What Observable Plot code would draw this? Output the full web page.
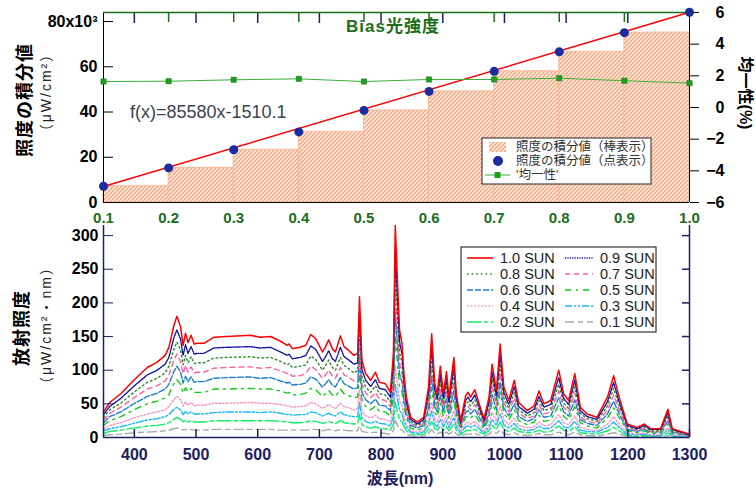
<!DOCTYPE html>
<html><head><meta charset="utf-8">
<script src="https://cdn.jsdelivr.net/npm/d3@7"></script>
<script src="https://cdn.jsdelivr.net/npm/@observablehq/plot@0.6"></script>
<style>
body{margin:0;background:#fff;}
#wrap{position:relative;width:756px;height:489px;overflow:hidden;background:#fff;}
#wrap svg{position:absolute;left:0;}
</style></head><body><div id="wrap"></div>
<script>
const FONT = '"Liberation Sans", Arial, "Noto Sans CJK JP", sans-serif';

// ---- top panel data ----
const intensities = [0.1,0.2,0.3,0.4,0.5,0.6,0.7,0.8,0.9,1.0];
const integralK = [7.2,15.3,23.3,31.2,40.7,49.1,58.0,66.6,75.1,84.1];   // x10^3 µW/cm²
const uniformity = [1.64,1.66,1.75,1.81,1.64,1.77,1.77,1.85,1.69,1.54]; // %
const fitX = [0.1, 1.0];
const fitY = [7.05, 84.07];
const leftTicks = [0,20,40,60,80];
const rightTicks = [-6,-4,-2,0,2,4,6];

// ---- bottom panel data ----
const waveTicks = [400,500,600,700,800,900,1000,1100,1200,1300];
const specTicks = [0,50,100,150,200,250,300];
const wavelengths = [350,360,378,399,421,437,450,456,464,469,475,479,483,487,492,497,502,513,529,550,588,604,621,637,648,651,656,669,678,686,694,705,710,715,721,726,734,740,748,756,762,765,769,775,783,791,797,807,815,820,823,827,830,834,837,841,848,859,869,877,882,887,891,896,901,906,910,918,922,929,937,941,945,952,959,967,975,980,987,993,999,1007,1016,1023,1037,1048,1056,1064,1075,1088,1096,1104,1114,1123,1134,1150,1167,1177,1186,1199,1215,1227,1237,1253,1265,1272,1286,1300];
const sun10 = [38,52,65,85,104,112,122,134,166,180,164,137,155,141,152,139,140,140,149,150,152,149,150,143,137,139,132,134,137,153,147,127,135,145,132,127,151,135,129,122,125,209,114,95,85,97,82,80,67,124,315,223,159,139,95,60,30,23,30,75,154,80,65,106,65,98,60,119,65,25,62,67,60,71,50,28,60,109,70,139,75,55,85,52,40,47,69,50,55,100,65,55,95,45,35,30,60,92,60,20,15,20,13,13,42,13,9,5];
const sun09 = [34,46,58,76,93,100,109,119,148,160,146,122,138,125,135,124,125,125,133,134,135,133,134,127,122,124,117,119,122,136,131,113,120,129,117,113,134,120,115,109,111,186,101,85,76,86,73,71,60,110,280,198,142,124,85,53,27,20,27,67,137,71,58,94,58,87,53,106,58,22,55,60,53,63,45,25,53,97,62,124,67,49,76,46,36,42,61,45,49,89,58,49,85,40,31,27,53,82,53,18,13,18,12,12,37,12,8,4];
const sun08 = [30,41,51,67,82,88,96,106,131,142,130,108,122,111,120,110,111,111,118,119,120,118,119,113,108,110,104,106,108,121,116,100,107,115,104,100,119,107,102,96,99,165,90,75,67,77,65,63,53,98,249,176,126,110,75,47,24,18,24,59,122,63,51,84,51,77,47,94,51,20,49,53,47,56,40,22,47,86,55,110,59,43,67,41,32,37,55,40,43,79,51,43,75,36,28,24,47,73,47,16,12,16,10,10,33,10,7,4];
const sun07 = [26,36,45,59,72,77,84,92,115,124,113,95,107,97,105,96,97,97,103,104,105,103,104,99,95,96,91,92,95,106,101,88,93,100,91,88,104,93,89,84,86,144,79,66,59,67,57,55,46,86,217,154,110,96,66,41,21,16,21,52,106,55,45,73,45,68,41,82,45,17,43,46,41,49,35,19,41,75,48,96,52,38,59,36,28,32,48,35,38,69,45,38,66,31,24,21,41,63,41,14,10,14,9,9,29,9,6,3];
const sun06 = [22,31,38,50,61,66,72,79,98,106,97,81,91,83,90,82,83,83,88,89,90,88,89,84,81,82,78,79,81,90,87,75,80,86,78,75,89,80,76,72,74,123,67,56,50,57,48,47,40,73,186,132,94,82,56,35,18,14,18,44,91,47,38,63,38,58,35,70,38,15,37,40,35,42,30,17,35,64,41,82,44,32,50,31,24,28,41,30,32,59,38,32,56,27,21,18,35,54,35,12,9,12,8,8,25,8,5,3];
const sun05 = [18,25,31,41,50,54,59,64,80,86,79,66,74,68,73,67,67,67,72,72,73,72,72,69,66,67,63,64,66,73,71,61,65,70,63,61,72,65,62,59,60,100,55,46,41,47,39,38,32,60,151,107,76,67,46,29,14,11,14,36,74,38,31,51,31,47,29,57,31,12,30,32,29,34,24,13,29,52,34,67,36,26,41,25,19,23,33,24,26,48,31,26,46,22,17,14,29,44,29,10,7,10,6,6,20,6,4,2];
const sun04 = [13,18,22,29,35,38,41,46,56,61,56,47,53,48,52,47,48,48,51,51,52,51,51,49,47,47,45,46,47,52,50,43,46,49,45,43,51,46,44,41,43,71,39,32,29,33,28,27,23,42,107,76,54,47,32,20,10,8,10,26,52,27,22,36,22,33,20,40,22,9,21,23,20,24,17,10,20,37,24,47,26,19,29,18,14,16,23,17,19,34,22,19,32,15,12,10,20,31,20,7,5,7,4,4,14,4,3,2];
const sun03 = [10,13,16,21,26,28,31,34,42,45,41,34,39,35,38,35,35,35,37,38,38,37,38,36,34,35,33,34,34,38,37,32,34,36,33,32,38,34,32,31,31,52,29,24,21,24,21,20,17,31,79,56,40,35,24,15,8,6,8,19,39,20,16,27,16,25,15,30,16,6,16,17,15,18,13,7,15,27,18,35,19,14,21,13,10,12,17,13,14,25,16,14,24,11,9,8,15,23,15,5,4,5,3,3,11,3,2,1];
const sun02 = [6,9,11,14,17,18,20,22,27,30,27,23,26,23,25,23,23,23,25,25,25,25,25,24,23,23,22,22,23,25,24,21,22,24,22,21,25,22,21,20,21,34,19,16,14,16,14,13,11,20,52,37,26,23,16,10,5,4,5,12,25,13,11,17,11,16,10,20,11,4,10,11,10,12,8,5,10,18,12,23,12,9,14,9,7,8,11,8,9,17,11,9,16,7,6,5,10,15,10,3,2,3,2,2,7,2,1,1];
const sun01 = [3,4,5,7,8,9,10,11,13,14,13,11,12,11,12,11,11,11,12,12,12,12,12,11,11,11,11,11,11,12,12,10,11,12,11,10,12,11,10,10,10,17,9,8,7,8,7,6,5,10,25,18,13,11,8,5,2,2,2,6,12,6,5,8,5,8,5,10,5,2,5,5,5,6,4,2,5,9,6,11,6,4,7,4,3,4,6,4,4,8,5,4,8,4,3,2,5,7,5,2,1,2,1,1,3,1,1,0];
const seriesNames = ["1.0 SUN","0.9 SUN","0.8 SUN","0.7 SUN","0.6 SUN","0.5 SUN","0.4 SUN","0.3 SUN","0.2 SUN","0.1 SUN"];
const seriesValues = [sun10,sun09,sun08,sun07,sun06,sun05,sun04,sun03,sun02,sun01];
const seriesColors = ["#ff0000","#1010a0","#2a8a2a","#ff5fa0","#1b7fd0","#11cc11","#ff8fc4","#15b8ff","#11ee66","#aaaaaa"];
const seriesDash = [null,"1.2,1.2","1.6,3","5,4","6,2","6,5,2,5","1.6,2","7,2,2,2,2,2","14,3,4,3","9,4,5,4"];

const GREEN = "#1b6e1b";
const NAVY = "#1c2060";
const wrap = document.getElementById("wrap");

function addHatch(svg, id) {
  const p = d3.select(svg).insert("defs", ":first-child").append("pattern")
    .attr("id", id).attr("patternUnits", "userSpaceOnUse").attr("width", 4).attr("height", 4);
  p.append("rect").attr("width", 4).attr("height", 4).attr("fill", "#fff0e6");
  p.append("path").attr("d", "M-1,1 L1,-1 M0,4 L4,0 M3,5 L5,3")
    .attr("stroke", "#f5a27a").attr("stroke-width", 1.3);
}

// ---- top plot ----
const bars = intensities.slice(0, -1).map((x, i) => ({x1: x, x2: intensities[i + 1], v: integralK[i]}));
const pts = intensities.map((x, i) => ({x, v: integralK[i]}));
const uni = intensities.map((x, i) => ({x, u: uniformity[i]}));
const fit = fitX.map((x, i) => ({x, v: fitY[i]}));
const toLeft = r => (r + 6) * 84 / 12;
const toTopX = w => 0.1 + (w - 350) * 0.9 / 950;
const fmtNum = d => (d < 0 ? "\u2212" + Math.abs(d) : String(d));

const topPlot = Plot.plot({
  width: 756, height: 230,
  marginLeft: 103, marginRight: 67, marginTop: 12, marginBottom: 28,
  style: {background: "transparent", fontFamily: FONT, overflow: "visible"},
  x: {domain: [0.1, 1.0], axis: null, label: null},
  y: {domain: [0, 84], axis: null, label: null},
  marks: [
    Plot.rect(bars, {x1: "x1", x2: "x2", y1: 0, y2: "v", fill: "url(#hatchTop)", stroke: "#f8b896", strokeWidth: 1}),
    Plot.ruleY([0], {stroke: "#000"}),
    Plot.ruleX([0.1], {stroke: "#000"}),
    Plot.ruleX([1.0], {stroke: "#000"}),
    Plot.ruleY([84], {stroke: GREEN, strokeWidth: 1.5}),
    Plot.axisX({anchor: "bottom", ticks: intensities, tickSize: 0, tickPadding: 10, tickFormat: d => d.toFixed(1), fill: GREEN, fontWeight: "bold", fontSize: 15, label: null}),
    Plot.axisX({anchor: "top", ticks: intensities.slice(1, -1), tickSize: -9, stroke: GREEN, strokeWidth: 1.5, tickFormat: () => "", label: null}),
    Plot.axisX({anchor: "top", ticks: waveTicks.slice(0, -1).map(toTopX), tickSize: -10, stroke: NAVY, strokeWidth: 1.5, tickFormat: () => "", label: null}),
    Plot.axisY({anchor: "left", ticks: leftTicks, tickSize: -10, tickPadding: 16, stroke: "#000", fill: "#000", fontWeight: "bold", fontSize: 16, tickFormat: d => d === 80 ? "80x10\u00b3" : String(d), label: null}),
    Plot.axisY({anchor: "right", ticks: rightTicks.map(toLeft), tickSize: 9, tickPadding: 26, textAnchor: "end", stroke: "#000", fill: "#000", fontWeight: "bold", fontSize: 16, tickFormat: d => fmtNum(Math.round(d * 12 / 84 - 6)), label: null}),
    Plot.line(fit, {x: "x", y: "v", stroke: "#ff0000", strokeWidth: 1.5}),
    Plot.line(uni, {x: "x", y: d => toLeft(d.u), stroke: "#3cae3c", strokeWidth: 1}),
    Plot.dot(uni, {x: "x", y: d => toLeft(d.u), symbol: "square", r: 3, fill: "#1f9f1f", stroke: "#117711", strokeWidth: 0.5}),
    Plot.dot(pts, {x: "x", y: "v", r: 4.5, fill: "#1a2d9e"})
  ]
});
addHatch(topPlot, "hatchTop");
topPlot.style.top = "0px";
wrap.appendChild(topPlot);

// ---- bottom plot ----
const lineMarks = [];
for (let s = seriesNames.length - 1; s >= 0; s--) {
  const data = wavelengths.map((w, i) => ({w, v: seriesValues[s][i]}));
  lineMarks.push(Plot.line(data, {x: "w", y: "v", stroke: seriesColors[s], strokeWidth: s === 0 ? 1.5 : 1.4, strokeDasharray: seriesDash[s] || undefined}));
}
const botPlot = Plot.plot({
  width: 756, height: 269,
  marginLeft: 103, marginRight: 67, marginTop: 5, marginBottom: 52,
  style: {background: "transparent", fontFamily: FONT, overflow: "visible"},
  x: {domain: [350, 1300], axis: null, label: null},
  y: {domain: [0, 315], axis: null, label: null},
  marks: [
    ...lineMarks,
    Plot.ruleX([350], {stroke: NAVY, strokeWidth: 1.5}),
    Plot.ruleX([1300], {stroke: NAVY, strokeWidth: 1.5}),
    Plot.ruleY([0], {stroke: NAVY, strokeWidth: 1.5}),
    Plot.axisX({anchor: "bottom", ticks: waveTicks, tickSize: -8, tickPadding: 19, stroke: NAVY, strokeWidth: 1.5, fill: NAVY, fontWeight: "bold", fontSize: 16, tickFormat: d => String(d), label: null}),
    Plot.axisY({anchor: "left", ticks: specTicks, tickSize: -10, tickPadding: 15, stroke: NAVY, fill: "#000", fontWeight: "bold", fontSize: 16, tickFormat: d => String(d), label: null}),
    Plot.axisY({anchor: "right", ticks: specTicks.slice(1), tickSize: -8, stroke: NAVY, strokeWidth: 1.5, tickFormat: () => "", label: null})
  ]
});
botPlot.style.top = "220px";
wrap.appendChild(botPlot);

// ---- overlay: titles, axis labels, legends ----
const ov = d3.select(wrap).append("svg").attr("width", 756).attr("height", 489)
  .style("top", "0px").style("font-family", FONT);
addHatch(ov.node(), "hatchLeg");

function txt(x, y, s, o = {}) {
  const t = ov.append("text").attr("x", 0).attr("y", 0).text(s)
    .attr("transform", `translate(${x},${y})` + (o.rotate ? ` rotate(${o.rotate})` : ""))
    .attr("font-size", o.size || 14).attr("fill", o.fill || "#000")
    .attr("font-weight", o.weight || "normal")
    .attr("text-anchor", o.anchor || "start")
    .attr("dominant-baseline", o.baseline || "central");
  if (o.spacing) t.attr("letter-spacing", o.spacing);
  return t;
}

txt(393, 26, "Bias光強度", {size: 17, weight: "bold", fill: GREEN, anchor: "middle", spacing: 1});
txt(130, 112, "f(x)=85580x-1510.1", {size: 18, fill: "#3b4452"});
txt(25, 100, "照度の積分値", {size: 18, weight: "bold", anchor: "middle", rotate: -90, spacing: 1});
txt(46, 92, "（μW/cm²）", {size: 14, anchor: "middle", rotate: -90, spacing: 2, fill: "#222"});
txt(740, 93, "均一性(%)", {size: 16, weight: "bold", anchor: "middle", rotate: 90, baseline: "auto"});
txt(22, 328, "放射照度", {size: 18, weight: "bold", anchor: "middle", rotate: -90, spacing: 1});
txt(46, 325, "（μW/cm²・nm）", {size: 14, anchor: "middle", rotate: -90, spacing: 2, fill: "#222"});
txt(400, 478, "波長(nm)", {size: 16, weight: "bold", fill: NAVY, anchor: "middle"});

// top legend
ov.append("rect").attr("x", 482).attr("y", 138).attr("width", 169).attr("height", 46)
  .attr("fill", "#fff").attr("stroke", "#222").attr("stroke-width", 1);
ov.append("rect").attr("x", 489).attr("y", 142).attr("width", 17).attr("height", 10).attr("fill", "url(#hatchLeg)");
ov.append("circle").attr("cx", 498).attr("cy", 161).attr("r", 5).attr("fill", "#1a2d9e");
ov.append("line").attr("x1", 485).attr("x2", 510).attr("y1", 175).attr("y2", 175).attr("stroke", "#3cae3c");
ov.append("rect").attr("x", 494.5).attr("y", 172).attr("width", 6).attr("height", 6).attr("fill", "#1f9f1f");
txt(516, 147, "照度の積分値（棒表示）", {size: 12.5, fill: "#333"});
txt(516, 161, "照度の積分値（点表示）", {size: 12.5, fill: "#333"});
txt(516, 175, "'均一性'", {size: 12.5, fill: "#333"});

// bottom legend
ov.append("rect").attr("x", 461).attr("y", 247).attr("width", 195).attr("height", 85)
  .attr("fill", "#fff").attr("stroke", "#333").attr("stroke-width", 1.2);
seriesNames.forEach((name, s) => {
  const row = Math.floor(s / 2), col = s % 2;
  const y = 258 + row * 16;
  const x0 = col === 0 ? 467 : 565, x1 = col === 0 ? 493 : 593, xt = col === 0 ? 500 : 600;
  const ln = ov.append("line").attr("x1", x0).attr("x2", x1).attr("y1", y).attr("y2", y)
    .attr("stroke", seriesColors[s]).attr("stroke-width", 1.6);
  if (seriesDash[s]) ln.attr("stroke-dasharray", seriesDash[s]);
  txt(xt, y, name, {size: 14.5, fill: "#222"});
});
</script></body></html>
